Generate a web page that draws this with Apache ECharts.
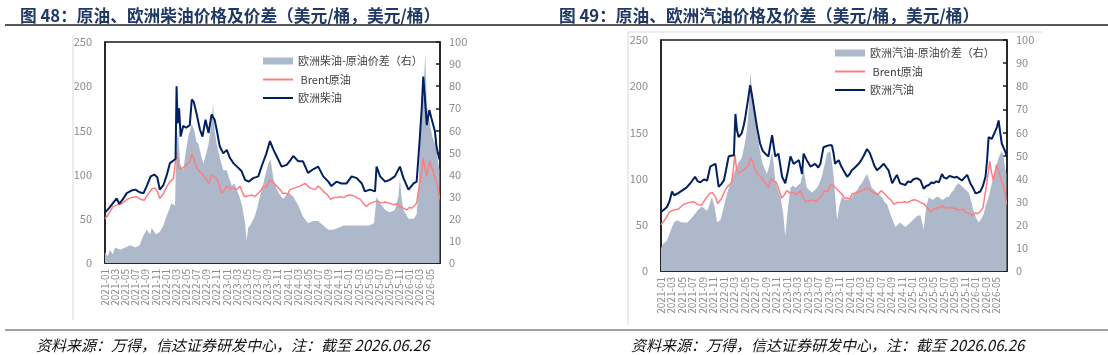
<!DOCTYPE html>
<html>
<head>
<meta charset="utf-8">
<script src="https://cdn.jsdelivr.net/npm/echarts@6.0.0/dist/echarts.min.js"></script>
<style>
  html, body { margin: 0; padding: 0; background: #fff; }
  #chart { width: 1108px; height: 355px; }
</style>
</head>
<body>
<div id="chart"></div>
<script>
// x = months since 2021-01-01, y = USD/bbl
var xLabels = ['2021-01','2021-03','2021-05','2021-07','2021-09','2021-11',
  '2022-01','2022-03','2022-05','2022-07','2022-09','2022-11',
  '2023-01','2023-03','2023-05','2023-07','2023-09','2023-11',
  '2024-01','2024-03','2024-05','2024-07','2024-09','2024-11',
  '2025-01','2025-03','2025-05','2025-07','2025-09','2025-11',
  '2026-01','2026-03','2026-05'];

// Brent原油 (shared by both charts)
var brent = [[0,50],[0.8,56],[1.6,64],[2.5,66],[3.3,67],[4.3,72],[5.2,74],[6.2,75],[7,72],[7.7,71],[8.5,78],[9.3,84],[9.8,85],[10.4,80],[10.8,73],[11.5,78],[12.2,87],[12.8,92],[13.5,96],[14.1,126],[14.4,110],[14.8,106],[15.4,108],[16.1,111],[16.7,115],[17.1,123],[17.5,118],[18,109],[18.5,104],[19,102],[19.5,98],[20,94],[20.5,90],[21,100],[21.5,97],[22,96],[22.5,88],[23,79],[23.5,82],[24,87],[24.7,84],[25.3,85],[26,83],[26.6,87],[27.2,78],[27.6,75],[28.3,76],[28.9,77],[29.5,75],[30.2,79],[30.7,82],[31.2,87],[31.8,86],[32.5,94],[33,92],[33.5,89],[34,86],[34.5,83],[35,79],[35.5,79],[36,78],[36.4,83],[37.4,85],[38.4,87],[39.4,90],[40,87],[40.4,85],[41.4,83],[42,87],[42.4,85],[43.4,79],[44,76],[44.4,72],[45,74],[45.7,74],[46.5,75],[47,74],[47.6,76],[48.3,77],[49,76],[49.6,74],[50.3,72],[50.6,70],[51.1,66],[51.5,64],[52.1,67],[52.5,68],[53.5,70],[54.5,68],[55.2,69],[55.8,68],[56.8,66],[57.5,67],[58.1,64],[58.8,62],[59.4,60],[60,63],[60.4,62],[61,65],[61.4,68],[62,90],[62.4,105],[62.7,119],[63,108],[63.4,98],[64,115],[64.4,108],[64.7,102],[65.3,92],[65.6,85],[65.9,72]];

// 欧洲柴油
var diesel = [[0,57],[0.8,62],[1.6,68],[2.3,73],[2.8,67],[3.5,72],[4.3,79],[5.2,82],[6,83],[6.8,80],[7.6,79],[8.3,88],[9,98],[9.7,100],[10.3,97],[10.8,83],[11.5,88],[12.2,100],[12.8,113],[13.5,116],[13.9,118],[14.1,200],[14.3,158],[14.6,175],[14.9,143],[15.4,155],[16,153],[16.7,156],[17.1,185],[17.5,182],[18,170],[18.7,151],[19.2,143],[19.8,162],[20.4,147],[21,168],[21.6,162],[22,151],[22.6,132],[23.3,124],[24,128],[24.6,119],[25.3,113],[26,109],[26.9,104],[27.6,94],[28.3,92],[29.2,96],[30.2,98],[30.9,110],[31.8,124],[32.5,138],[33.2,128],[33.8,121],[34.8,109],[35.8,111],[36.5,116],[37.1,121],[38.1,115],[39,115],[40,102],[41,106],[42,109],[43,98],[44,92],[44.6,87],[45.6,92],[46.6,90],[47.6,90],[48.6,98],[49.6,96],[50.6,90],[51.2,81],[52.2,83],[53.2,81],[53.5,109],[54.2,98],[55.2,92],[56.1,94],[57.1,98],[58.1,109],[58.8,96],[59.8,83],[60.8,90],[61.4,92],[62,140],[62.4,175],[62.7,211],[63,189],[63.4,156],[63.9,173],[64.3,164],[65,149],[65.3,132],[65.6,124],[65.9,117]];

// 欧洲柴油-原油价差（右）
var dieselSpread = [[0,5],[0.5,3],[1,6],[1.5,4],[2,7],[3,6],[4,7],[5,8],[6,7],[6.8,8],[7.5,12],[8.2,15],[8.9,13],[9.2,16],[10,13],[10.8,14],[11.5,17],[12.1,21],[12.6,24],[13.1,27],[13.8,26],[14.1,55],[14.4,60],[14.8,45],[15.4,42],[15.9,50],[16.4,57],[17.1,63],[17.6,60],[18,55],[18.4,54],[19,48],[19.4,45],[20,50],[20.4,54],[20.9,62],[21.3,72],[21.6,60],[22,54],[22.7,47],[23.3,42],[24,42],[24.5,38],[25,35],[25.5,36],[26,33],[26.5,30],[27,26],[27.6,18],[27.9,10],[28.2,16],[28.6,17],[29.5,21],[30,25],[30.5,30],[31,34],[31.5,39],[32.2,45],[32.6,47],[33.2,38],[33.6,35],[34.1,32],[35.1,29],[36.1,32],[37.1,30],[38.1,26],[39,21],[40,18],[41,19],[42,19],[43,17],[44,15],[45,15],[46,16],[47,17],[48,17],[49,17],[50,17],[51,17],[52,17],[53,18],[53.5,30],[54.2,27],[55.2,24],[56.1,23],[57.1,24],[57.8,30],[58.1,38],[58.4,30],[58.8,24],[59.8,20],[60.8,20],[61.4,22],[61.8,35],[62,54],[62.4,65],[62.7,75],[63.1,95],[63.4,72],[64,63],[64.5,57],[65,54],[65.3,51],[65.6,46],[65.9,42]];

// 欧洲汽油
var gasoline = [[0,64],[0.5,66],[1.1,69],[1.6,75],[2.1,86],[2.5,82],[3.2,84],[4,87],[4.8,90],[5.6,95],[6.5,102],[7,97],[7.5,96],[8.2,99],[8.8,98],[9.4,113],[10,115],[10.4,116],[11,91],[11.5,94],[12,98],[12.5,112],[12.9,124],[13.5,125],[13.9,125],[14.2,170],[14.5,152],[14.8,145],[15.4,149],[15.8,158],[16.1,167],[16.7,189],[17,201],[17.3,192],[17.7,178],[18.3,156],[18.9,138],[19.4,130],[19.9,127],[20.5,124],[20.9,138],[21.2,147],[21.5,135],[21.8,124],[22.4,127],[23.1,102],[23.7,95],[24.2,108],[24.7,124],[25.3,116],[25.8,118],[26.3,120],[26.9,105],[27.2,127],[27.8,120],[28.5,113],[29.4,116],[30,112],[30.4,116],[31,134],[31.5,135],[32,136],[32.6,136],[32.9,128],[33.2,116],[33.9,120],[34.4,113],[34.8,109],[35.5,102],[36,105],[36.4,109],[37,112],[37.7,116],[38.2,120],[38.7,125],[39.3,132],[39.8,128],[40.2,122],[40.7,114],[41.2,109],[41.8,112],[42.5,116],[43,112],[43.4,109],[44.1,95],[44.6,100],[45,104],[45.6,95],[46.1,94],[46.6,93],[47.1,97],[47.6,96],[48.1,99],[48.5,100],[49,100],[49.5,98],[50.1,89],[50.6,92],[51.1,93],[51.6,96],[52,95],[52.5,97],[53,96],[53.6,105],[54,101],[54.5,100],[55,103],[55.5,102],[56,101],[56.4,102],[56.9,100],[57.4,98],[57.9,101],[58.4,104],[59,95],[59.5,90],[60,84],[60.5,85],[60.9,86],[61.4,92],[61.9,102],[62.2,120],[62.5,145],[62.8,146],[63.1,143],[63.5,148],[63.8,152],[64.1,156],[64.4,163],[64.7,150],[65,138],[65.3,136],[65.6,130],[65.9,125]];

// 欧洲汽油-原油价差（右）
var gasolineSpread = [[0,10],[0.5,12],[1.1,13],[1.6,16],[2.1,19],[2.5,21],[3,22],[4,21],[5,21],[5.9,23],[6.9,26],[7.8,28],[8.3,27],[8.8,26],[9.3,29],[9.7,32],[10.2,28],[10.7,21],[11.3,22],[11.8,26],[12.3,31],[12.8,35],[13.2,38],[13.7,41],[14.2,44],[14.8,47],[15.4,49],[15.9,54],[16.4,61],[16.8,72],[17,86],[17.3,80],[17.7,71],[18,66],[18.3,60],[18.8,53],[19.3,47],[19.8,44],[20.2,42],[20.7,46],[21.2,52],[21.5,46],[21.8,39],[22.3,35],[22.8,32],[23.3,25],[23.7,15],[24.2,27],[24.7,36],[25.2,37],[25.6,36],[26.1,37],[26.6,38],[27.2,44],[27.5,40],[27.8,36],[28.3,35],[28.8,34],[29.3,35],[29.8,36],[30.2,38],[30.7,41],[31.2,46],[31.7,51],[32.3,52],[32.9,42],[33.3,30],[33.6,22],[34,28],[34.5,32],[35,31],[35.5,31],[36,31],[36.4,32],[36.9,34],[37.4,35],[37.9,37],[38.3,38],[38.8,40],[39.3,42],[39.8,39],[40.2,36],[40.7,35],[41.2,34],[41.7,33],[42.1,32],[42.6,30],[43.1,29],[43.7,25],[44.2,22],[44.7,19],[45.2,20],[45.6,21],[46.1,20],[46.6,19],[47.1,20],[47.6,21],[48,22],[48.5,23],[49,24],[49.5,24],[50.1,18],[50.6,28],[51.1,32],[51.6,31],[52,31],[52.5,32],[53,32],[53.5,31],[53.9,31],[54.4,32],[54.9,32],[55.4,34],[55.8,35],[56.3,37],[56.8,38],[57.2,37],[57.7,36],[58.2,35],[58.7,34],[59.2,30],[59.6,26],[60.1,23],[60.6,21],[61.2,23],[61.6,25],[61.9,28],[62.5,32],[63.1,38],[63.8,44],[64.4,49],[65,52],[65.3,50],[65.6,45],[65.9,42]];

var FONT = '"Noto Sans CJK SC", "Noto Sans", sans-serif';
var AXIS = '#1a1a1a';
var LABEL = '#8c8c8c';
var LINE_ICON = 'path://M0,0H30V2H0Z';

function xAxisFor(idx) {
  return {
    gridIndex: idx, type: 'value', min: 0, max: 66, interval: 2,
    axisLine: { show: true, onZero: false, lineStyle: { color: AXIS, width: 1.5 } },
    axisTick: { show: true, inside: true, length: 4, lineStyle: { color: AXIS, width: 1.5 } },
    splitLine: { show: false },
    axisLabel: {
      rotate: 90, margin: 6, fontSize: 10, lineHeight: 9, color: LABEL, fontFamily: FONT,
      showMinLabel: true, showMaxLabel: false, hideOverlap: false,
      formatter: function (v) { return xLabels[Math.round(v / 2)] || ''; }
    }
  };
}
function leftY(idx) {
  return {
    gridIndex: idx, type: 'value', min: 0, max: 250, interval: 50, position: 'left',
    axisLine: { show: true, lineStyle: { color: AXIS, width: 1.5 } },
    axisTick: { show: false }, splitLine: { show: false },
    axisLabel: { margin: 13, fontSize: 11, color: LABEL, fontFamily: FONT }
  };
}
function rightY(idx) {
  return {
    gridIndex: idx, type: 'value', min: 0, max: 100, interval: 10, position: 'right',
    axisLine: { show: true, lineStyle: { color: AXIS, width: 1.5 } },
    axisTick: { show: true, inside: true, length: 4, lineStyle: { color: AXIS, width: 1.5 } },
    splitLine: { show: false },
    axisLabel: { margin: 9, fontSize: 11, color: LABEL, fontFamily: FONT }
  };
}
function spreadSeries(name, data, xi, yi) {
  return {
    name: name, type: 'line', xAxisIndex: xi, yAxisIndex: yi, data: data,
    showSymbol: false, symbol: 'none', itemStyle: { color: '#adb9ca' },
    lineStyle: { width: 0, color: '#adb9ca' },
    areaStyle: { color: '#adb9ca', opacity: 1 }, z: 1
  };
}
function lineSeries(name, data, color, width, xi, yi) {
  return {
    name: name, type: 'line', xAxisIndex: xi, yAxisIndex: yi, data: data,
    showSymbol: false, symbol: 'none', itemStyle: { color: color },
    lineStyle: { width: width, color: color }, z: 3
  };
}
function legendFor(left, top, names) {
  return {
    orient: 'vertical', left: left, top: top, itemWidth: 30, itemHeight: 7, itemGap: 4.5,
    symbolKeepAspect: true,
    textStyle: { fontSize: 11, color: '#404040', fontFamily: FONT, lineHeight: 14 },
    data: [{ name: names[0], icon: 'rect' }, { name: names[1], icon: LINE_ICON }, { name: names[2], icon: LINE_ICON }]
  };
}

var chart = echarts.init(document.getElementById('chart'), null, { renderer: 'canvas' });
chart.setOption({
  backgroundColor: '#fff',
  animation: false,
  title: [
    { text: '图 48：原油、欧洲柴油价格及价差（美元/桶，美元/桶）', left: 15, top: 2,
      textStyle: { fontSize: 16.7, fontWeight: 'bold', color: '#1f3864', fontFamily: FONT } },
    { text: '图 49：原油、欧洲汽油价格及价差（美元/桶，美元/桶）', left: 554, top: 2,
      textStyle: { fontSize: 16.7, fontWeight: 'bold', color: '#1f3864', fontFamily: FONT } },
    { text: '资料来源：万得，信达证券研发中心，注：截至 2026.06.26', left: 31, top: 333,
      textStyle: { fontSize: 15, fontWeight: 'normal', fontStyle: 'italic', color: '#111', fontFamily: FONT } },
    { text: '资料来源：万得，信达证券研发中心，注：截至 2026.06.26', left: 626, top: 333,
      textStyle: { fontSize: 15, fontWeight: 'normal', fontStyle: 'italic', color: '#111', fontFamily: FONT } }
  ],
  legend: [
    legendFor(258, 49, ['欧洲柴油-原油价差（右）', ' Brent原油', '欧洲柴油']),
    legendFor(830, 41, ['欧洲汽油-原油价差（右）', ' Brent原油', '欧洲汽油'])
  ],
  grid: [
    { left: 105, top: 42, width: 335, height: 221, show: true, borderColor: AXIS, borderWidth: 1.5, backgroundColor: 'transparent' },
    { left: 661, top: 40, width: 346, height: 231, show: true, borderColor: AXIS, borderWidth: 1.5, backgroundColor: 'transparent' }
  ],
  xAxis: [xAxisFor(0), xAxisFor(1)],
  yAxis: [leftY(0), rightY(0), leftY(1), rightY(1)],
  series: [
    spreadSeries('欧洲柴油-原油价差（右）', dieselSpread, 0, 1),
    lineSeries(' Brent原油', brent, '#ff7c80', 1.5, 0, 0),
    lineSeries('欧洲柴油', diesel, '#002060', 2, 0, 0),
    spreadSeries('欧洲汽油-原油价差（右）', gasolineSpread, 1, 3),
    lineSeries(' Brent原油', brent, '#ff7c80', 1.5, 1, 2),
    lineSeries('欧洲汽油', gasoline, '#002060', 2, 1, 2)
  ],
  graphic: [
    { type: 'line', shape: { x1: 5, y1: 25, x2: 1108, y2: 25 }, style: { stroke: '#222', lineWidth: 1.5 } },
    { type: 'line', shape: { x1: 5, y1: 330, x2: 1108, y2: 330 }, style: { stroke: '#444', lineWidth: 1.2 } },
    { type: 'line', shape: { x1: 73, y1: 35, x2: 73, y2: 320 }, style: { stroke: '#d9d9d9', lineWidth: 1 } },
    { type: 'line', shape: { x1: 628, y1: 32, x2: 628, y2: 325 }, style: { stroke: '#d9d9d9', lineWidth: 1 } },
    { type: 'line', shape: { x1: 628, y1: 32, x2: 1042, y2: 32 }, style: { stroke: '#d9d9d9', lineWidth: 1 } }
  ]
});
</script>
</body>
</html>
